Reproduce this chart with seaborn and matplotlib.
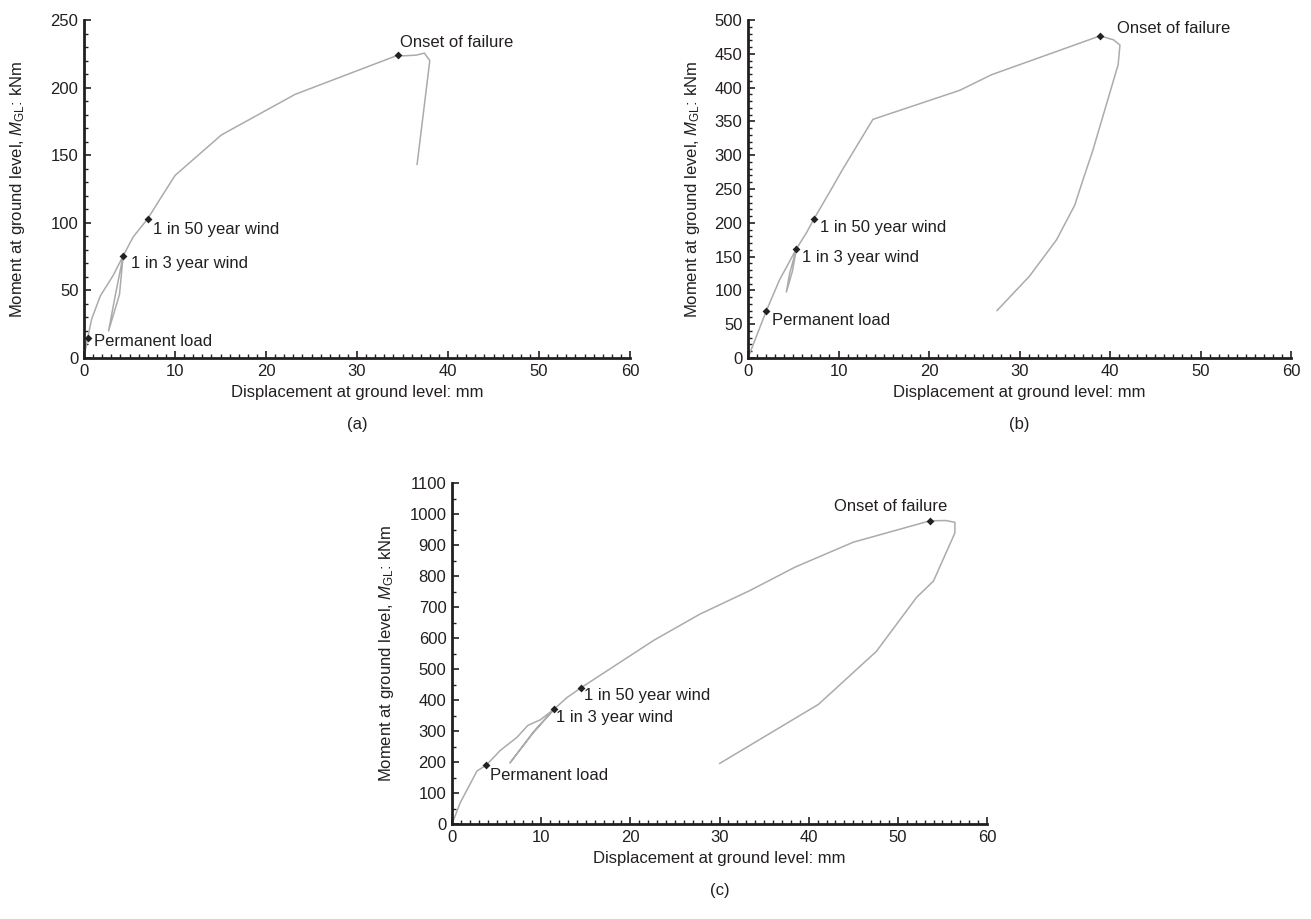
import numpy as np
import pandas as pd
import seaborn as sns
import matplotlib
matplotlib.use("Agg")
import matplotlib.pyplot as plt
from matplotlib.ticker import MultipleLocator

# ---------------- data ----------------
# Panel (a)
a_disp = [0, 0.4, 0.85, 1.8, 3.2, 4.3, 3.9, 2.7, 3.4, 4.3, 5.4, 7.0, 8.4, 10.0, 15.1, 23.2,
          34.5, 35.1, 36.5, 37.4, 38.0, 36.6]
a_mom = [0, 15, 29, 46, 61, 75.5, 47, 20, 45, 75.5, 89.5, 103, 118, 135, 165, 195,
         224, 223.5, 224, 225.5, 220, 143]
a_pts_disp = [0.4, 4.3, 7.0, 34.5]
a_pts_mom = [15, 75.5, 103, 224]

# Panel (b)
b_disp = [0, 2.0, 3.5, 4.6, 5.35, 4.9, 4.24, 4.6, 5.35, 6.45, 7.3, 9.0, 10.5, 13.8, 23.4,
          26.9, 38.9, 40.4, 41.1, 40.9, 39.6, 38.1, 37.0, 36.1, 34.1, 31.1, 27.5]
b_mom = [0, 69, 116, 143, 161.6, 128, 97.6, 125, 161.6, 185, 206, 245, 280, 353, 396,
         419, 476.5, 470.6, 463, 434, 375, 307, 263, 226, 175, 121, 70]
b_pts_disp = [2.0, 5.35, 7.3, 38.9]
b_pts_mom = [69, 161.6, 206, 476.5]

# Panel (c)
c_disp = [0, 0.93, 2.8, 3.85, 5.4, 7.3, 8.5, 9.9, 11.47, 9.0, 6.5, 9.2, 11.47, 12.9, 14.5,
          22.6, 27.8, 33.4, 38.5, 45.0, 53.6, 55.4, 56.4, 56.4, 54.0, 52.1, 47.6, 41.1, 30.0]
c_mom = [0, 69, 171, 190, 237, 280, 318, 336, 371, 290, 197, 300, 371, 408, 440,
         592, 677, 753, 829, 909, 978, 979, 973, 939, 784, 731, 557, 386, 195]
c_pts_disp = [3.85, 11.47, 14.5, 53.6]
c_pts_mom = [190, 371, 440, 978]

point_labels = ["Permanent load", "1 in 3 year wind", "1 in 50 year wind", "Onset of failure"]
panel_tags = ["(a)", "(b)", "(c)"]
y_limits = [250, 500, 1100]
y_major = [50, 50, 100]
y_minor = [10, 10, 50]

# ---------------- style ----------------
sns.set_style("ticks")
plt.rcParams["font.family"] = ["Liberation Sans", "DejaVu Sans"]
plt.rcParams["mathtext.fontset"] = "custom"
plt.rcParams["mathtext.rm"] = "Liberation Sans"
plt.rcParams["mathtext.it"] = "Liberation Sans:italic"

fig = plt.figure(figsize=(13.11, 9.19), dpi=100)
W, H = 1311, 919
boxes = [(84, 630, 20, 358), (748, 1291, 20, 358), (452, 987, 483, 824)]
ylabel_x_px = [18, 692, 386]          # ylabel centre x in figure pixels
tag_y_px = [424, 424, 890]           # panel tag centre y in figure pixels
xlabel_y_px = [392, 392, 858]        # xlabel centre y in figure pixels

offsets = [
    [(6, -4, "left"), (8, -8, "left"), (5, -11, "left"), (2, 13, "left")],
    [(6, -9, "left"), (6, -9, "left"), (6, -9, "left"), (17, 7, "left")],
    [(4, -10, "left"), (2, -9, "left"), (3, -8, "left"), (-39, 14, "center")],
]

datasets = [
    (a_disp, a_mom, a_pts_disp, a_pts_mom),
    (b_disp, b_mom, b_pts_disp, b_pts_mom),
    (c_disp, c_mom, c_pts_disp, c_pts_mom),
]

ink = "#231f20"
for i, ((xd, yd, px, py), (l, r, t, b)) in enumerate(zip(datasets, boxes)):
    ax = fig.add_axes([l / W, 1 - b / H, (r - l) / W, (b - t) / H])
    df = pd.DataFrame({"disp": xd, "mom": yd})
    sns.lineplot(data=df, x="disp", y="mom", sort=False, estimator=None, ax=ax,
                 color="#ababab", linewidth=1.1)
    dp = pd.DataFrame({"disp": px, "mom": py})
    sns.scatterplot(data=dp, x="disp", y="mom", ax=ax, marker="D", s=16,
                    color="#222222", edgecolor="#222222", linewidth=0, zorder=5)
    for (xx, yy, lab, (dx, dy, ha)) in zip(px, py, point_labels, offsets[i]):
        ax.annotate(lab, (xx, yy), xytext=(dx, dy), textcoords="offset pixels",
                    ha=ha, va="center", fontsize=12, color=ink)
    ax.set_xlim(0, 60)
    ax.set_ylim(0, y_limits[i])
    ax.xaxis.set_major_locator(MultipleLocator(10))
    ax.xaxis.set_minor_locator(MultipleLocator(1))
    ax.yaxis.set_major_locator(MultipleLocator(y_major[i]))
    ax.yaxis.set_minor_locator(MultipleLocator(y_minor[i]))
    ax.tick_params(which="major", direction="in", length=5, width=1.2, labelsize=12,
                   colors=ink, pad=4)
    ax.tick_params(which="minor", direction="in", length=3, width=1.0, colors=ink)
    for s in ["top", "right"]:
        ax.spines[s].set_visible(False)
    for s in ["left", "bottom"]:
        ax.spines[s].set_linewidth(2)
        ax.spines[s].set_color(ink)
    ax.set_xlabel("Displacement at ground level: mm", fontsize=12, color=ink)
    ax.set_ylabel(r"Moment at ground level, $M_{\rm GL}$: kNm", fontsize=12, color=ink)
    wpx, hpx = r - l, b - t
    ax.xaxis.set_label_coords(0.5, -(xlabel_y_px[i] - b) / hpx)
    ax.xaxis.label.set_va("center")
    ax.yaxis.set_label_coords(-(l - ylabel_x_px[i]) / wpx, 0.5)
    ax.yaxis.label.set_va("center")
    ax.text(0.5, -(tag_y_px[i] - b) / hpx, panel_tags[i], transform=ax.transAxes,
            ha="center", va="center", fontsize=12, color=ink)

fig.savefig("out.png", dpi=100)
